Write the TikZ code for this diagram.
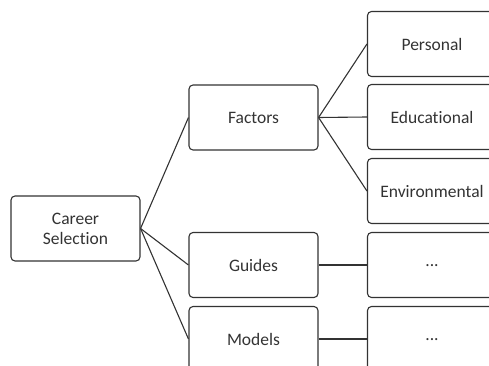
\documentclass[tikz,border=0pt]{standalone}
\usepackage{fontspec}
\setmainfont{Carlito}[Ligatures=NoCommon]
\begin{document}
\begin{tikzpicture}[x=1pt,y=-1pt,
  box/.style={draw=black!80,line width=1.1pt,rounded corners=4pt,
    minimum width=129pt,minimum height=65pt,align=center,
    text=black!80,font=\fontsize{17.5}{20}\selectfont},
  link/.style={draw=black!80,line width=1.1pt}]

\useasboundingbox (0,0) rectangle (489,366);
\clip (0,0) rectangle (489,366);

% Root
\node[box] (career) at (75.5,228.5) {Career\\Selection};
% Second level
\node[box] (factors) at (253.5,117.5) {Factors};
\node[box] (guides) at (253.5,265) {Guides};
\node[box] (models) at (253.5,339) {Models};
% Third level
\node[box] (personal) at (432,44) {Personal};
\node[box] (educational) at (432,117) {Educational};
\node[box] (environmental) at (432,191) {Environmental};
\node[box] (guidesmore) at (432,265) {\raisebox{-4pt}{...}};
\node[box] (modelsmore) at (432,339) {\raisebox{-4pt}{...}};

% Links
\foreach \child in {factors,guides,models}
  \draw[link] (career.east) -- (\child.west);
\foreach \child in {personal,educational,environmental}
  \draw[link] (factors.east) -- (\child.west);
\draw[link] (guides.east) -- (guidesmore.west);
\draw[link] (models.east) -- (modelsmore.west);

\end{tikzpicture}
\end{document}
